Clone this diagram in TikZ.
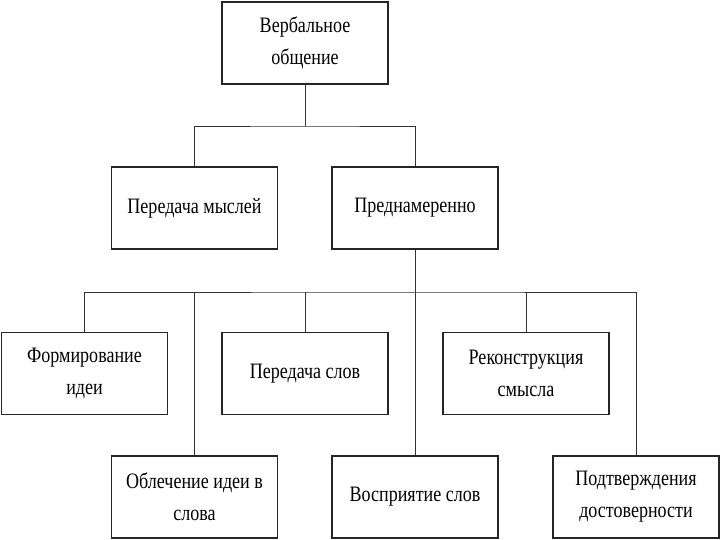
\documentclass[tikz,border=0pt]{standalone}
\usepackage{fontspec}
\setmainfont{Liberation Serif}[FakeStretch=0.82]
\begin{document}
\begin{tikzpicture}[x=1pt,y=-1pt,
  box/.style={draw=black!85, line width=1.1pt, minimum width=166pt, minimum height=82pt,
    align=center, inner sep=2pt, font=\fontsize{22}{32}\selectfont, fill=white},
  conn/.style={draw=black!80, line width=0.8pt}]
\useasboundingbox (0,0) rectangle (720,540);
\node[box] (top) at (305,43) {Вербальное\\общение};
\node[box] (pm) at (194.5,208) {Передача мыслей};
\node[box] (pr) at (415,208) {Преднамеренно};
\node[box] (fi) at (84.5,373.5) {Формирование\\идеи};
\node[box] (ps) at (305,373.5) {Передача слов};
\node[box] (rs) at (526,373.5) {Реконструкция\\смысла};
\node[box] (ob) at (194.5,497) {Облечение идеи в\\слова};
\node[box] (vs) at (415,497) {Восприятие слов};
\node[box] (pd) at (636,497) {Подтверждения\\достоверности};
\coordinate (j1) at (305,126);
\coordinate (j2) at (415,292);
\draw[conn] (top.south) -- (j1);
\draw[conn] (pm.north) |- (j1) -| (pr.north);
\draw[conn] (pr.south) -- (j2);
\draw[conn] (fi.north) |- (j2) -| (pd.north);
\draw[conn] (ob.north) -- (ob.north |- j2);
\draw[conn] (ps.north) -- (ps.north |- j2);
\draw[conn] (rs.north) -- (rs.north |- j2);
\draw[conn] (vs.north) -- (j2);
\end{tikzpicture}
\end{document}
